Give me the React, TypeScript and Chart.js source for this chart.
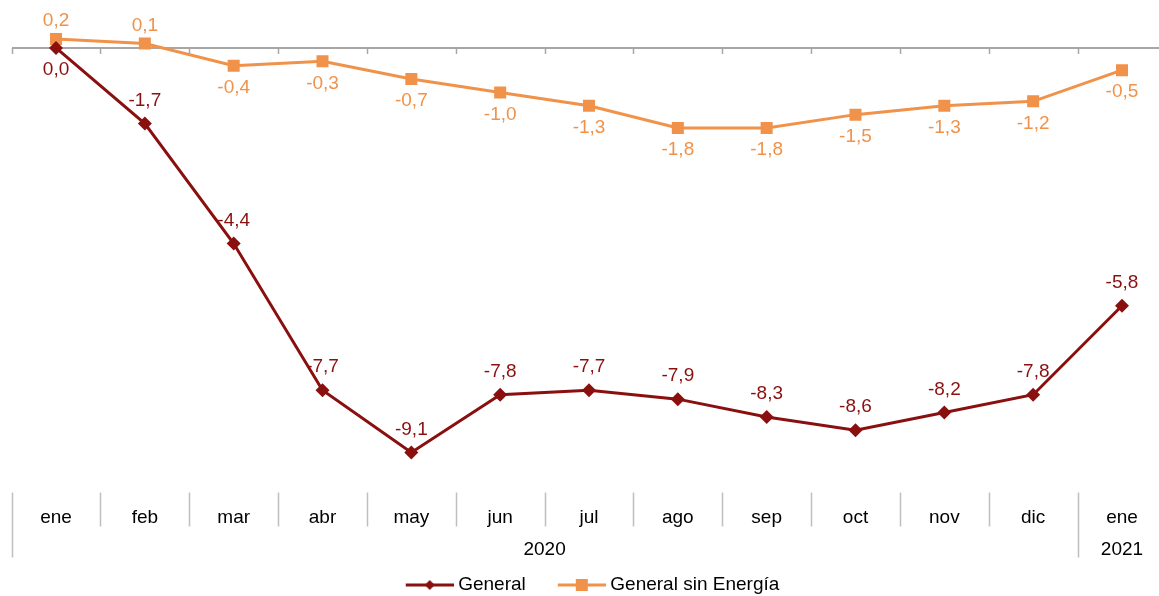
import React, { useEffect, useRef } from 'react';
import { Chart, registerables } from 'chart.js';

Chart.register(...registerables);

const months = ['ene', 'feb', 'mar', 'abr', 'may', 'jun', 'jul', 'ago', 'sep', 'oct', 'nov', 'dic', 'ene'];
const years = ['2020', '2021'];
const yearSpans = [12, 1];
const seriesNames = ['General', 'General sin Energía'];
const general = [0.0, -1.7, -4.4, -7.7, -9.1, -7.8, -7.7, -7.9, -8.3, -8.6, -8.2, -7.8, -5.8];
const sinEnergia = [0.2, 0.1, -0.4, -0.3, -0.7, -1.0, -1.3, -1.8, -1.8, -1.5, -1.3, -1.2, -0.5];

const RED = '#8A1010';
const ORANGE = '#F0924A';
const AXIS_GRAY = '#A6A6A6';
const SEP_GRAY = '#BFBFBF';
const FONT = "'Liberation Sans', Arial, sans-serif";
const FONT_SIZE = 19;

const CANVAS_W = 1172;
const CANVAS_H = 596;

const fmt = (v: number) => v.toFixed(1).replace('.', ',');

function makeIcon(color: string, kind: 'diamond' | 'square'): HTMLCanvasElement {
  const c = document.createElement('canvas');
  c.width = 60;
  c.height = 16;
  const ctx = c.getContext('2d')!;
  ctx.strokeStyle = color;
  ctx.lineWidth = 3;
  ctx.beginPath();
  ctx.moveTo(12, 8);
  ctx.lineTo(60, 8);
  ctx.stroke();
  ctx.fillStyle = color;
  const cx = 36;
  if (kind === 'diamond') {
    ctx.beginPath();
    ctx.moveTo(cx, 3);
    ctx.lineTo(cx + 5, 8);
    ctx.lineTo(cx, 13);
    ctx.lineTo(cx - 5, 8);
    ctx.closePath();
    ctx.fill();
  } else {
    ctx.fillRect(cx - 6, 2, 12, 12);
  }
  return c;
}

const axisDecor = {
  id: 'axisDecor',
  beforeDatasetsDraw(chart: any) {
    const { ctx, chartArea, scales } = chart;
    const x = scales.x;
    const y = scales.y;
    const n = months.length;
    const half = (x.getPixelForValue(1) - x.getPixelForValue(0)) / 2;
    const y0 = y.getPixelForValue(0);
    const bottom = chartArea.bottom;
    const yearBounds: number[] = [0];
    let acc = 0;
    yearSpans.forEach((s) => {
      acc += s;
      yearBounds.push(acc);
    });
    ctx.save();
    // ticks on the zero line
    ctx.strokeStyle = AXIS_GRAY;
    ctx.lineWidth = 1.5;
    for (let i = 0; i <= n; i++) {
      const bx = Math.round(x.getPixelForValue(i) - half) + 0.5;
      ctx.beginPath();
      ctx.moveTo(bx, y0);
      ctx.lineTo(bx, y0 + 6);
      ctx.stroke();
    }
    // category separators
    ctx.strokeStyle = SEP_GRAY;
    ctx.lineWidth = 1.5;
    for (let i = 0; i <= n; i++) {
      const bx = Math.round(x.getPixelForValue(i) - half) + 0.5;
      const long = yearBounds.includes(i);
      ctx.beginPath();
      ctx.moveTo(bx, bottom);
      ctx.lineTo(bx, bottom + (long ? 65 : 34));
      ctx.stroke();
    }
    // year labels
    ctx.fillStyle = '#000';
    ctx.font = `${FONT_SIZE}px ${FONT}`;
    ctx.textAlign = 'center';
    ctx.textBaseline = 'middle';
    let idx = 0;
    years.forEach((yr, k) => {
      const span = yearSpans[k];
      const cx = (x.getPixelForValue(idx) + x.getPixelForValue(idx + span - 1)) / 2;
      ctx.fillText(yr, cx, bottom + 57);
      idx += span;
    });
    ctx.restore();
  },
};

const dataLabels = {
  id: 'dataLabels',
  afterDatasetsDraw(chart: any) {
    const { ctx } = chart;
    ctx.save();
    ctx.font = `${FONT_SIZE}px ${FONT}`;
    ctx.textAlign = 'center';
    ctx.textBaseline = 'middle';
    chart.data.datasets.forEach((ds: any, di: number) => {
      const meta = chart.getDatasetMeta(di);
      ctx.fillStyle = ds.borderColor;
      meta.data.forEach((pt: any, i: number) => {
        const v = ds.data[i];
        let above: boolean;
        if (di === 0) above = v < 0;
        else above = v > 0;
        const upOffset = di === 0 ? 23 : 18;
        const ty = above ? pt.y - upOffset : pt.y + 22;
        ctx.fillText(fmt(v), pt.x, ty);
      });
    });
    ctx.restore();
  },
};

export default function App() {
  const ref = useRef<HTMLCanvasElement | null>(null);

  useEffect(() => {
    if (!ref.current) return;
    const icons = [makeIcon(RED, 'diamond'), makeIcon(ORANGE, 'square')];
    const chart = new Chart(ref.current, {
      type: 'line',
      data: {
        labels: months,
        datasets: [
          {
            label: seriesNames[0],
            data: general,
            borderColor: RED,
            backgroundColor: RED,
            borderWidth: 3,
            pointStyle: 'rectRot',
            pointRadius: 7,
            pointHoverRadius: 7,
            pointBorderWidth: 0,
            tension: 0,
          },
          {
            label: seriesNames[1],
            data: sinEnergia,
            borderColor: ORANGE,
            backgroundColor: ORANGE,
            borderWidth: 3,
            pointStyle: 'rect',
            pointRadius: 8.5,
            pointHoverRadius: 8.5,
            pointBorderWidth: 0,
            tension: 0,
          },
        ],
      },
      options: {
        responsive: false,
        animation: false,
        devicePixelRatio: 1,
        layout: { autoPadding: false, padding: { left: 11.6, right: 5.6, top: 3.5, bottom: -8.5 } },
        scales: {
          x: {
            type: 'category',
            offset: true,
            grid: { display: false },
            border: { display: false },
            ticks: {
              color: '#000',
              padding: 6,
              font: { size: FONT_SIZE, family: FONT },
              maxRotation: 0,
              autoSkip: false,
            },
            afterFit: (scale: any) => {
              scale.height = 58;
            },
          },
          y: {
            min: -10,
            max: 1,
            ticks: { display: false, stepSize: 1 },
            border: { display: false },
            grid: {
              drawTicks: false,
              lineWidth: 2,
              color: (c: any) => (c.tick && c.tick.value === 0 ? AXIS_GRAY : 'rgba(0,0,0,0)'),
            },
            afterFit: (scale: any) => {
              scale.width = 0;
            },
          },
        },
        plugins: {
          tooltip: { enabled: false },
          legend: {
            position: 'bottom',
            labels: {
              usePointStyle: true,
              pointStyleWidth: 50,
              boxHeight: FONT_SIZE,
              padding: 25,
              color: '#000',
              font: { size: FONT_SIZE, family: FONT },
              generateLabels: (ch: any) =>
                ch.data.datasets.map((ds: any, i: number) => ({
                  text: ds.label,
                  pointStyle: icons[i],
                  fillStyle: ds.borderColor,
                  strokeStyle: ds.borderColor,
                  lineWidth: 0,
                  hidden: false,
                  datasetIndex: i,
                  fontColor: '#000',
                })),
            },
          },
        },
      },
      plugins: [axisDecor, dataLabels],
    } as any);
    return () => chart.destroy();
  }, []);

  return (
    <div
      style={{
        position: 'absolute',
        left: 0,
        top: 0,
        width: 1159,
        height: CANVAS_H,
        overflow: 'hidden',
        background: '#fff',
      }}
    >
      <canvas ref={ref} width={CANVAS_W} height={CANVAS_H} style={{ width: CANVAS_W, height: CANVAS_H, display: 'block' }} />
    </div>
  );
}
